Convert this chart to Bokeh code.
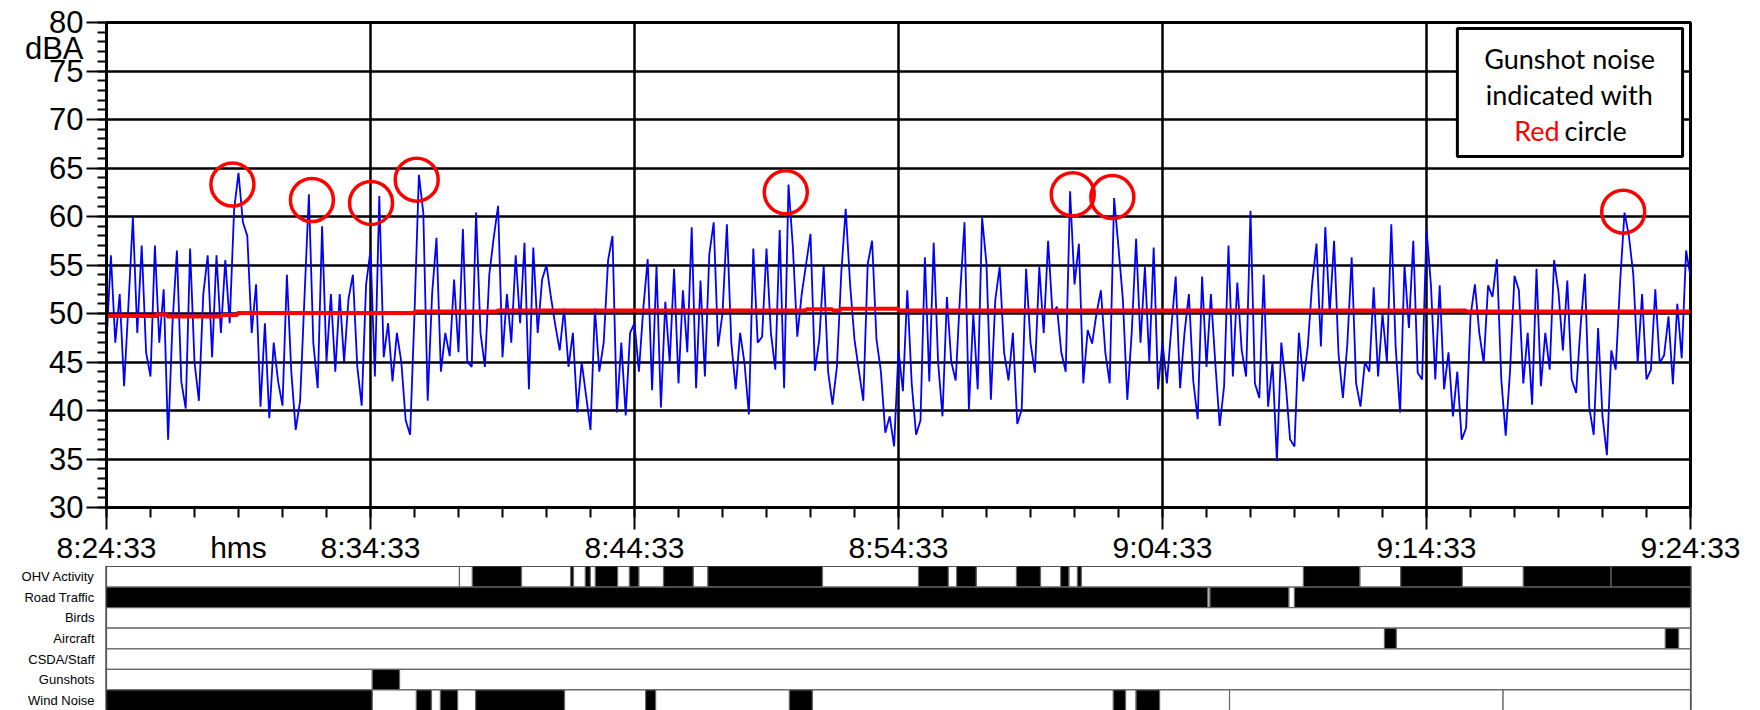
from bokeh.plotting import figure
from bokeh.models import (Range1d, FixedTicker, Label, BoxAnnotation, FactorRange,
                          ColumnDataSource, LinearAxis)
from bokeh.layouts import column
from bokeh.embed import file_html
from bokeh.resources import INLINE

# ---------------- data ----------------
# sound level (dBA), one reading every 10 s starting 8:24:33
SAMPLE_MIN = 10.0 / 60.0
level_0_20 = [47, 56, 47, 52, 42.5, 51, 59.9, 48, 57, 46,
              43.5, 57, 47, 52.5, 37, 49, 56.5, 43, 40.2, 56.7,
              45, 41, 52, 56, 45.5, 56, 48, 55.5, 49, 60.7,
              64.5, 59.4, 58, 48, 53, 40.4, 49, 39.2, 47, 43,
              40.5, 54, 44, 38, 41, 51.7, 62.3, 47, 42.3, 59,
              45, 52, 44, 52, 45, 51.5, 54, 44.5, 40.5, 53,
              56.5, 43.5, 62.1, 45.5, 49, 43, 48, 45, 39, 37.5,
              50, 64.3, 60.4, 41, 52, 57.8, 44, 48, 45.6, 53.5,
              46, 58.7, 45, 44.5, 60.4, 48, 44.5, 54, 57.8, 61.1,
              45.5, 52, 47, 56, 49, 57.3, 42.2, 56.8, 48, 53.5,
              55, 51.7, 48.8, 46.2, 50.5, 44.5, 48, 39.8, 45, 41.5,
              38, 50.5, 44, 47, 55.5, 58, 39.8, 47, 39.5, 48]
level_20_40 = [49, 44, 50.5, 55.6, 42.1, 54.9, 40.3, 51.2, 45, 54.6,
               42.8, 52.4, 46, 58.9, 42.3, 53.4, 43.5, 56.1, 59.4, 46.6,
               50, 59.2, 47, 42.2, 48, 44.9, 39.6, 56.7, 47, 47.6,
               56.7, 48, 44.2, 58.6, 42.3, 63.3, 56.8, 47.6, 52, 55.1,
               58.2, 44.1, 47.3, 54.9, 44, 40.6, 44.5, 54.2, 60.8, 53,
               47.3, 44.1, 41, 55.1, 57.5, 47.3, 44, 37.7, 39.4, 36.3,
               46.2, 42, 52.4, 42.8, 37.5, 39, 55.8, 43, 57.3, 45,
               39.4, 51.7, 45, 43.1, 52, 59.4, 40.1, 50, 42.2, 59.9,
               55.1, 41.1, 51.4, 54.8, 46, 43.1, 48, 38.6, 40.1, 54.6,
               47, 43.9, 54.8, 48, 57.5, 50, 50.7, 46, 44, 62.6,
               53, 57.2, 42.8, 48.3, 46.9, 50, 52.4, 46, 42.8, 61.9,
               56.8, 51.4, 41.1, 48, 57.7, 47, 54.8, 45, 56.8, 42.2]
level_40_60 = [47, 42.8, 48.5, 53.8, 42.3, 48, 52, 43, 39.1, 53.8,
               44.5, 52, 44.9, 38.4, 42.5, 57, 43.5, 53.2, 46.2, 43.5,
               60.6, 42.8, 41.3, 54, 40.4, 45, 34.8, 47, 42.8, 37,
               36.3, 48, 43, 46.5, 53, 57.2, 46.6, 58.9, 50, 57.5,
               45.9, 41.3, 46.8, 55.8, 42.8, 40.4, 45, 44, 52.7, 43.5,
               50, 45, 59.2, 46.5, 39.8, 55, 48.5, 57.5, 43.9, 43.2,
               58.7, 53, 43.2, 52.9, 42.2, 46, 39.4, 44, 37, 38.2,
               49.7, 53, 48, 44.9, 52.9, 51.7, 55.6, 43.2, 37.4, 44.2,
               53.9, 52.4, 42.8, 48, 40.6, 54.6, 42.5, 48, 44.2, 55.5,
               52.2, 46.2, 53.4, 43.2, 41.8, 48.6, 54.1, 40.3, 37.5, 48.5,
               39.4, 35.4, 46.2, 44.2, 53.2, 60.4, 58, 54, 44.9, 52,
               43.2, 44.2, 52.5, 44.9, 45.7, 49.7, 42.7, 51, 45.4, 56.5,
               53.8]
levels = level_0_20 + level_20_40 + level_40_60
times = [i * SAMPLE_MIN for i in range(len(levels))]

# running Leq (red), step changes (minutes after start)
leq_start = [0, 1.9, 2.3, 4.35, 4.96, 11.67, 14.8, 26.5, 27.5, 27.8, 30.0, 51.5, 60]
leq_level = [49.75, 49.9, 49.7, 49.85, 50.05, 50.2, 50.3, 50.45, 50.3, 50.5, 50.3, 50.2, 50.2]

# gunshot circles
shot_t = [4.77, 7.78, 10.02, 11.75, 25.73, 36.6, 38.1, 57.45]
shot_db = [63.3, 61.7, 61.4, 63.8, 62.5, 62.3, 62.0, 60.5]

tick_pos = [0, 10, 20, 30, 40, 50, 60]
tick_labels = ["8:24:33", "8:34:33", "8:44:33", "8:54:33", "9:04:33", "9:14:33", "9:24:33"]
x_unit_pos = 5
x_unit_label = "hms"
y_ticks = [30, 35, 40, 45, 50, 55, 60, 65, 70, 75, 80]
y_unit_pos = 77.3
y_unit_label = "dBA"

rows = ["OHV Activity", "Road Traffic", "Birds", "Aircraft", "CSDA/Staff", "Gunshots", "Wind Noise"]
ohv_edges = [0, 13.37, 13.86, 15.72, 17.58, 17.69, 18.14, 18.33, 18.52, 19.36, 19.81, 20.17, 21.1,
             22.23, 22.78, 27.12, 30.76, 31.89, 32.2, 32.95, 34.47, 35.38, 36.14, 36.46, 36.78,
             36.93, 45.34, 47.48, 49.02, 51.36, 53.67, 56.99, 60]
ohv_on = [0, 0, 1, 0, 1, 0, 1, 0, 1, 0, 1, 0, 1, 0, 1, 0, 1, 0, 1, 0, 1, 0, 1, 0, 1, 0, 1, 0, 1, 0, 1, 1]
road_edges = [0, 41.72, 41.8, 44.79, 45.0, 60]
road_on = [1, 0, 1, 0, 1]
birds_edges = [0, 60]
birds_on = [0]
aircraft_edges = [0, 48.41, 48.86, 59.05, 59.55, 60]
aircraft_on = [0, 1, 0, 1, 0]
staff_edges = [0, 60]
staff_on = [0]
gun_edges = [0, 10.07, 11.1, 60]
gun_on = [0, 1, 0]
wind_edges = [0, 10.07, 11.74, 12.31, 12.65, 13.30, 13.98, 17.35, 20.42, 20.80, 25.87, 26.74,
              38.14, 38.6, 39.0, 39.89, 42.54, 52.9, 60]
wind_on = [1, 0, 1, 0, 1, 0, 1, 0, 1, 0, 1, 0, 1, 0, 1, 0, 0, 0]

row_data = [(ohv_edges, ohv_on), (road_edges, road_on), (birds_edges, birds_on),
            (aircraft_edges, aircraft_on), (staff_edges, staff_on), (gun_edges, gun_on),
            (wind_edges, wind_on)]

# ---------------- top chart ----------------
FONT = "Liberation Sans"
xr = Range1d(0, 60)
p = figure(frame_width=1584, frame_height=485, x_range=xr, y_range=Range1d(30, 80),
           output_backend="svg", toolbar_location=None,
           min_border_left=106, min_border_right=70, min_border_top=22, min_border_bottom=40)
p.background_fill_color = "white"
p.outline_line_color = "black"
p.outline_line_width = 3

x_ticker = FixedTicker(ticks=tick_pos, minor_ticks=[i * 100.0 / 60.0 for i in range(37)])
y_ticker = FixedTicker(ticks=y_ticks, minor_ticks=list(range(30, 81)))
p.xaxis.ticker = x_ticker
p.yaxis.ticker = y_ticker
# inner axes: lines and ticks only
for ax in (p.xaxis[0], p.yaxis[0]):
    ax.axis_line_color = "black"
    ax.axis_line_width = 3
    ax.major_tick_line_color = "black"
    ax.minor_tick_line_color = "black"
    ax.major_tick_line_width = 2
    ax.minor_tick_line_width = 2
    ax.major_tick_in = 0
    ax.minor_tick_in = 0
    ax.major_label_text_font_size = "1px"
    ax.major_label_text_alpha = 0
    ax.major_label_standoff = 0
p.xaxis.major_tick_out = 22
p.xaxis.minor_tick_out = 10
p.yaxis.major_tick_out = 20
p.yaxis.minor_tick_out = 9

# outer axes: tick labels (plus unit labels "hms" / "dBA")
x_lab_axis = LinearAxis(ticker=FixedTicker(ticks=tick_pos + [x_unit_pos]),
                        major_label_overrides={**{t: s for t, s in zip(tick_pos, tick_labels)},
                                               x_unit_pos: x_unit_label})
y_lab_axis = LinearAxis(ticker=FixedTicker(ticks=y_ticks + [y_unit_pos]),
                        major_label_overrides={y_unit_pos: y_unit_label})
for ax in (x_lab_axis, y_lab_axis):
    ax.axis_line_color = None
    ax.major_tick_line_color = None
    ax.minor_tick_line_color = None
    ax.major_tick_out = 0
    ax.major_tick_in = 0
    ax.minor_tick_out = 0
    ax.minor_tick_in = 0
    ax.major_label_text_font = FONT
    ax.major_label_text_color = "black"
x_lab_axis.major_label_text_font_size = "30px"
x_lab_axis.major_label_standoff = 1
y_lab_axis.major_label_text_font_size = "31px"
y_lab_axis.major_label_standoff = 3
p.add_layout(x_lab_axis, "below")
p.add_layout(y_lab_axis, "left")

p.xgrid.ticker = x_ticker
p.ygrid.ticker = y_ticker
p.xgrid.grid_line_color = "black"
p.xgrid.grid_line_width = 2.5
p.ygrid.grid_line_color = "black"
p.ygrid.grid_line_width = 2.5

p.line(times, levels, line_color="#0000FF", line_width=1.8)
p.step(leq_start, leq_level, mode="after", line_color="#FF0000", line_width=4)
p.scatter(shot_t, shot_db, marker="circle", size=43, fill_color=None,
          line_color="#FF0000", line_width=3.5)

box = BoxAnnotation(left=51.17, right=59.7, bottom=66.19, top=79.38,
                    fill_color="white", fill_alpha=1.0, line_color="black",
                    line_alpha=1.0, line_width=3)
p.add_layout(box)
NOTE_FONT = "Lato"
for txt, yy in (("Gunshot noise", 76.29), ("indicated with", 72.58)):
    p.add_layout(Label(x=55.42, y=yy, text=txt, text_align="center", text_baseline="middle",
                       text_font=NOTE_FONT, text_font_size="27px", text_color="black"))
p.add_layout(Label(x=55.42, y=68.87, text="Red", text_align="right", text_baseline="middle",
                   x_offset=-10, text_font=NOTE_FONT, text_font_size="27px", text_color="#FF0000"))
p.add_layout(Label(x=55.42, y=68.87, text="circle", text_align="left", text_baseline="middle",
                   x_offset=-5, text_font=NOTE_FONT, text_font_size="27px", text_color="black"))

# ---------------- activity bars ----------------
ys, lefts, rights, colors = [], [], [], []
for name, (edges, on) in zip(rows, row_data):
    for k, st in enumerate(on):
        ys.append(name)
        lefts.append(edges[k])
        rights.append(edges[k + 1])
        colors.append("black" if st else "white")
src = ColumnDataSource(dict(y=ys, left=lefts, right=rights, color=colors))

p2 = figure(frame_width=1584, frame_height=144, x_range=xr, y_range=FactorRange(*reversed(rows)),
            output_backend="svg", toolbar_location=None,
            min_border_left=106, min_border_right=70, min_border_top=0, min_border_bottom=0)
p2.hbar(y="y", left="left", right="right", height=1.0, fill_color="color",
        line_color="#666666", line_width=1.2, source=src)
p2.outline_line_color = "black"
p2.outline_line_width = 2
p2.xaxis.visible = False
p2.xgrid.visible = False
p2.ygrid.visible = False
p2.yaxis.axis_line_color = None
p2.yaxis.major_tick_line_color = None
p2.yaxis.minor_tick_line_color = None
p2.yaxis.major_label_text_font = FONT
p2.yaxis.major_label_text_font_size = "13px"
p2.yaxis.major_label_text_color = "black"
p2.yaxis.major_label_standoff = 6

layout = column(p, p2, spacing=0)
open("out.html", "w").write(file_html(layout, INLINE))
